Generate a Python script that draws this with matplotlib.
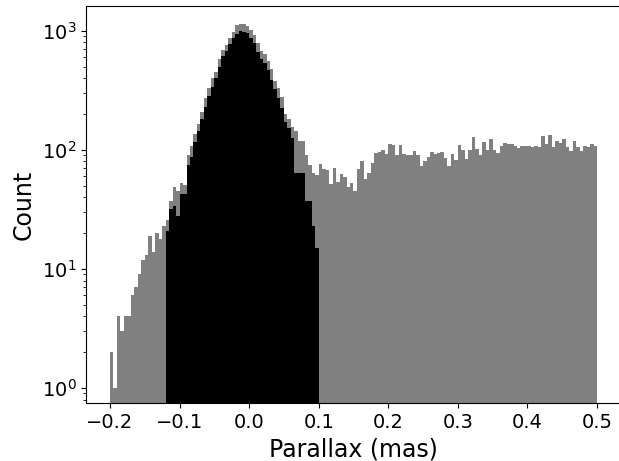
import numpy as np
import matplotlib
matplotlib.use("Agg")
import matplotlib.pyplot as plt

# bin edges: 140 bins of 0.005 mas between -0.2 and 0.5
edges = np.linspace(-0.2, 0.5, 141)

# full sample (gray), one count per bin
all_counts = [
    2, 1, 4, 3, 4, 4, 6, 7, 9, 12,
    13, 19, 14, 20, 18, 23, 26, 37, 49, 45,
    53, 51, 91, 107, 135, 164, 209, 272, 330, 400,
    449, 578, 692, 762, 867, 987, 1123, 1145, 1145, 1102,
    1019, 925, 798, 684, 637, 560, 476, 380, 334, 281,
    201, 181, 157, 143, 119, 119, 91, 75, 64, 62,
    76, 69, 68, 52, 71, 54, 63, 59, 49, 53,
    45, 69, 81, 57, 64, 77, 94, 97, 100, 93,
    112, 110, 90, 110, 92, 91, 90, 98, 90, 74,
    81, 87, 96, 92, 95, 96, 86, 74, 93, 82,
    110, 100, 84, 100, 128, 102, 90, 116, 100, 124,
    100, 94, 107, 114, 112, 112, 107, 103, 109, 109,
    107, 105, 109, 105, 130, 112, 134, 105, 119, 115,
    124, 105, 98, 119, 105, 98, 108, 105, 112, 109,
]

# selected sample (black), bins 16..59 (-0.12 to 0.10 mas)
sel_first = 16
sel_counts = [
    21, 32, 34, 28, 43, 43, 75, 88, 117, 144,
    181, 228, 284, 341, 400, 502, 617, 684, 778, 867,
    944, 1006, 987, 957, 867, 788, 670, 578, 535, 470,
    387, 324, 272, 224, 173, 152, 125, 64, 64, 64,
    37, 37, 23, 15,
]

centers = 0.5 * (edges[:-1] + edges[1:])
sel_edges = edges[sel_first:sel_first + len(sel_counts) + 1]
sel_centers = centers[sel_first:sel_first + len(sel_counts)]

fig = plt.figure(figsize=(6.19, 4.61), dpi=100)
ax = fig.add_axes([86 / 619, 1 - 403 / 461, (621 - 86) / 619, 397 / 461])

ax.hist(centers, bins=edges, weights=all_counts, color="gray", log=True)
ax.hist(sel_centers, bins=sel_edges, weights=sel_counts, color="black", log=True)

ax.set_xlim(-0.2345, 0.5345)
ax.set_ylim(0.748, 1620)
ax.set_xticks([-0.2, -0.1, 0.0, 0.1, 0.2, 0.3, 0.4, 0.5])
ax.tick_params(labelsize=14)
ax.set_xlabel("Parallax (mas)", fontsize=17)
ax.set_ylabel("Count", fontsize=17)

fig.savefig("out.png", dpi=100)
